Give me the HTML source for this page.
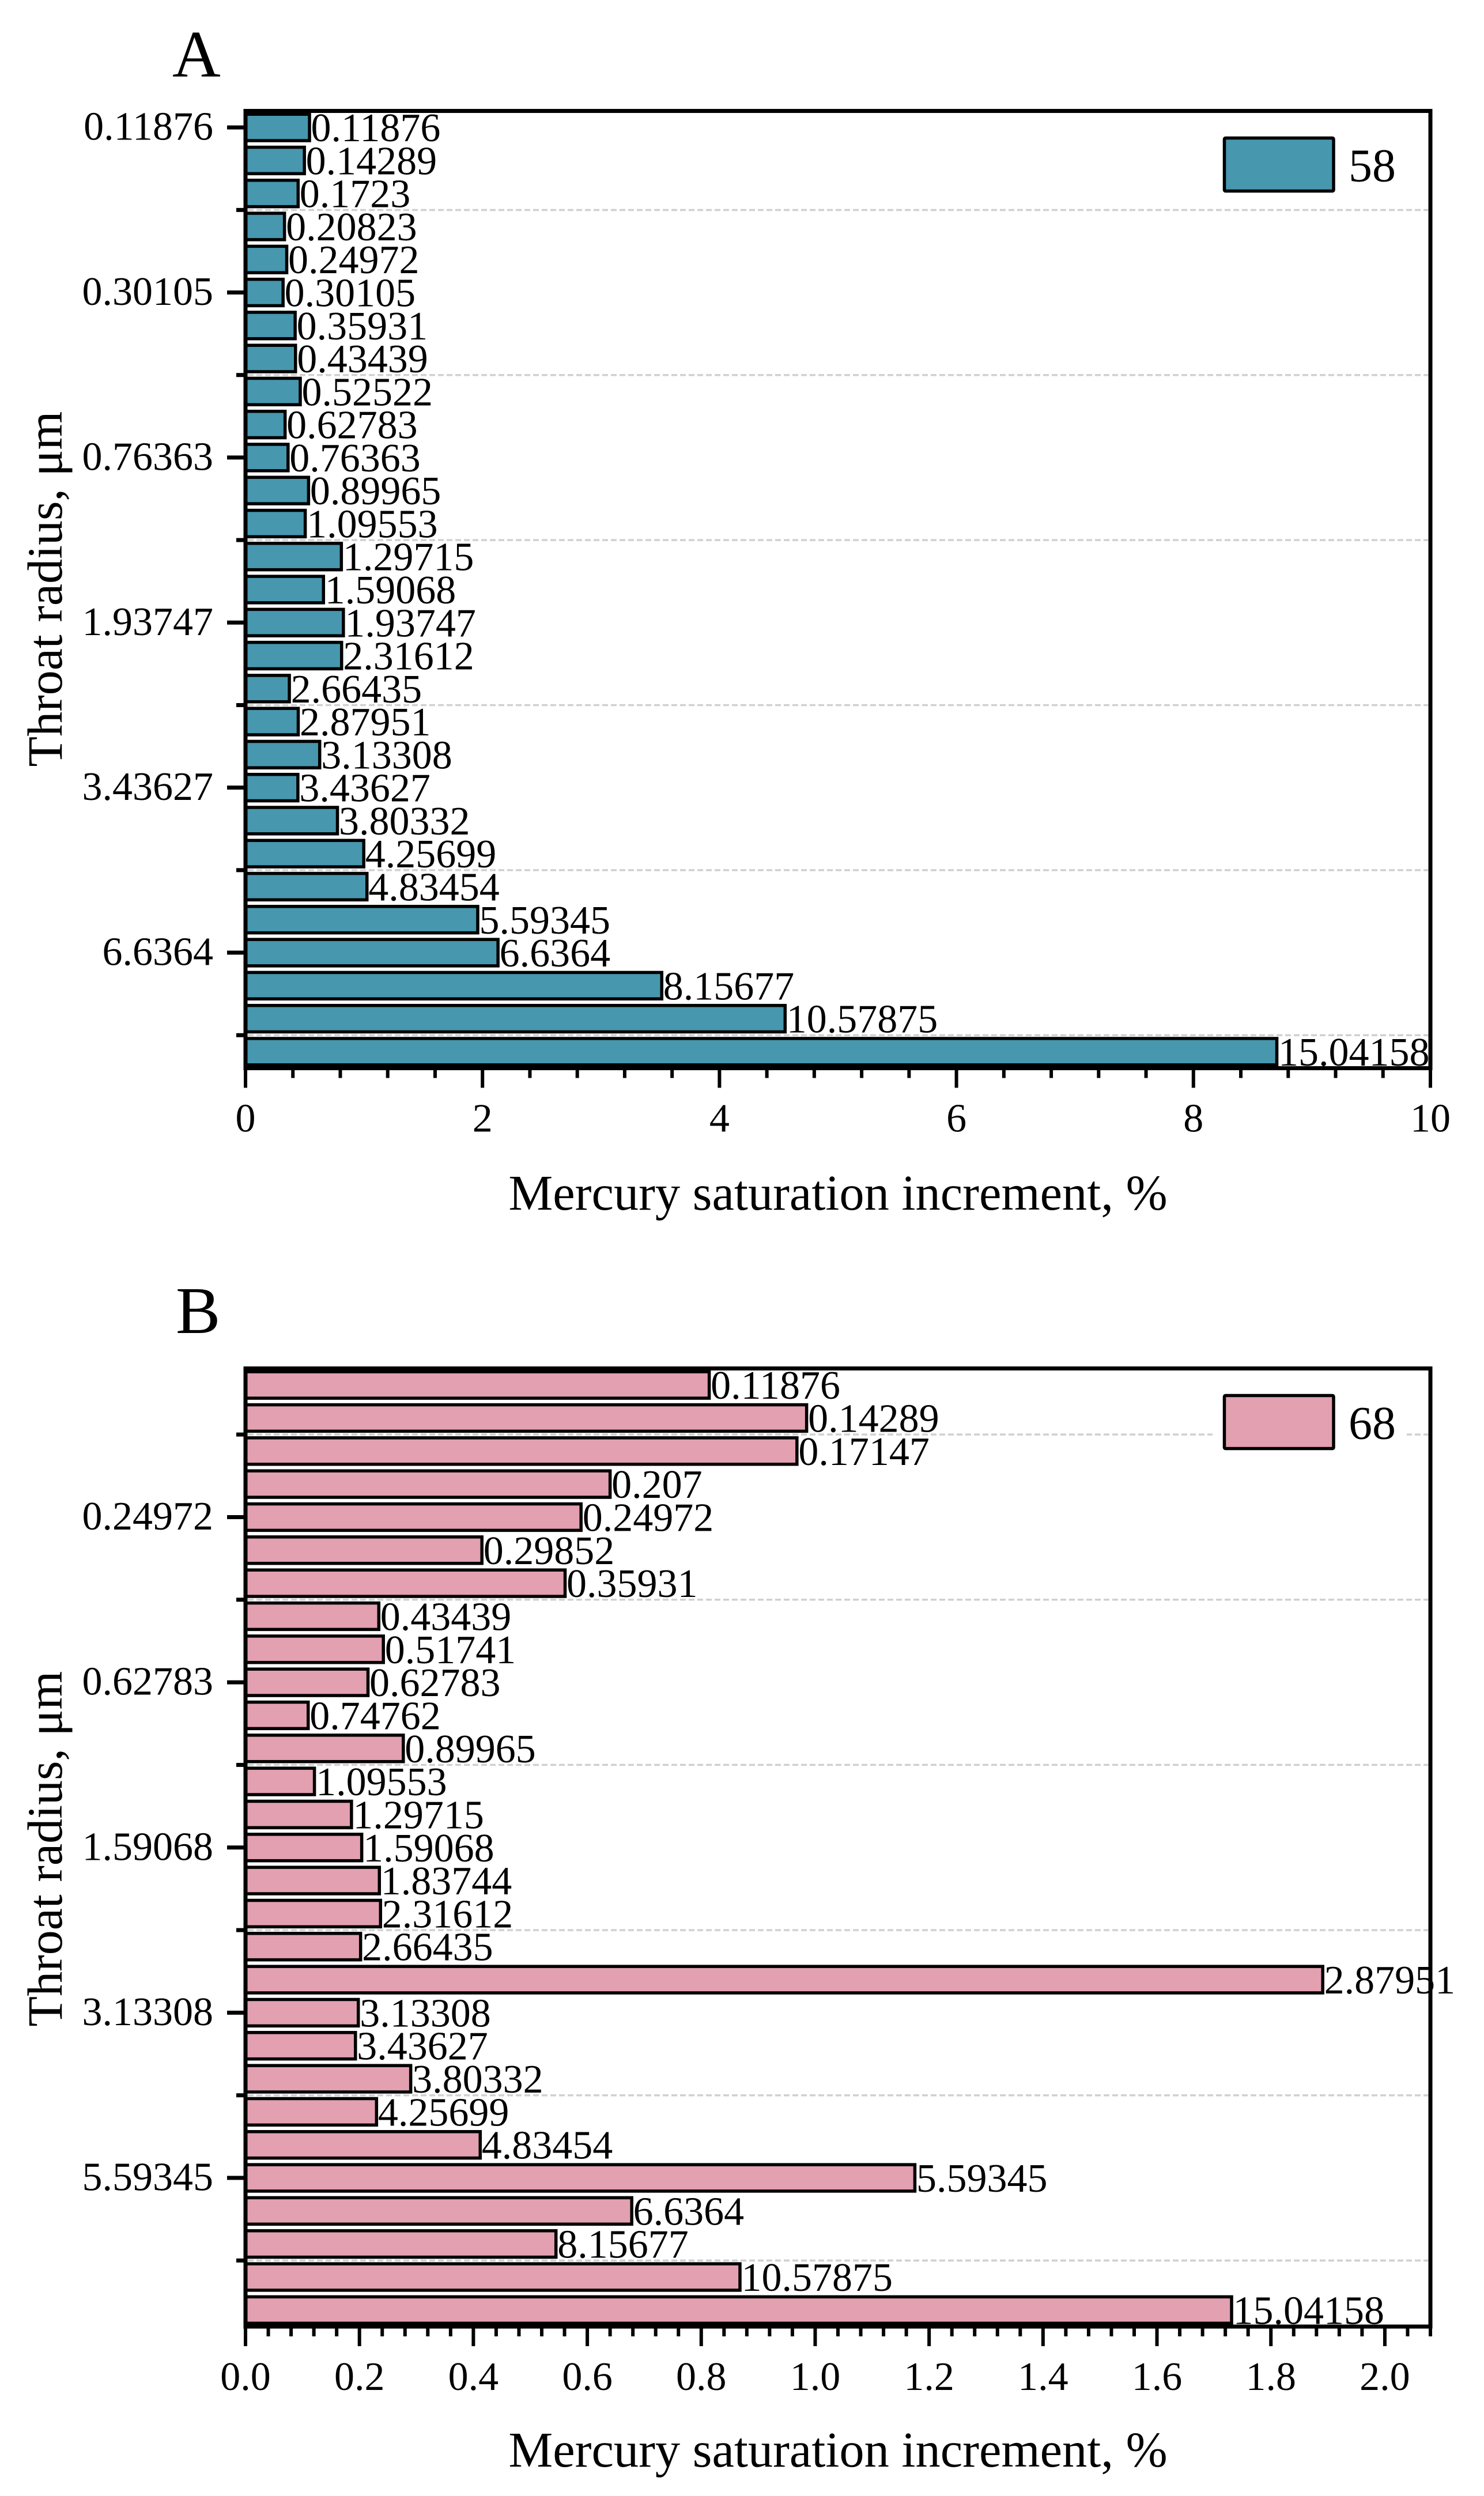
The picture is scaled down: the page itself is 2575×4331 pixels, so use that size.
<!DOCTYPE html>
<html lang="en">
<head>
<meta charset="utf-8">
<title>Mercury saturation increment by throat radius</title>
<style>
html,body{margin:0;padding:0;background:#fff;}
svg{display:block;}
text{font-family:"Liberation Serif",serif;fill:#000;}
</style>
</head>
<body>
<svg id="figure" xmlns="http://www.w3.org/2000/svg" width="2575" height="4331" viewBox="0 0 2575 4331">
  <rect x="0" y="0" width="2575" height="4331" fill="#ffffff"/>
  <text x="299" y="133" font-size="116">A</text>
  <text x="305" y="2313" font-size="116">B</text>
  <g id="panel-a"></g>
  <g id="panel-b"></g>
  <text x="1454" y="2099" font-size="86.5" text-anchor="middle">Mercury saturation increment, %</text>
  <text x="1454" y="4280" font-size="86.5" text-anchor="middle">Mercury saturation increment, %</text>
  <text transform="translate(107 1022) rotate(-90)" font-size="86" text-anchor="middle">Throat radius, μm</text>
  <text transform="translate(107 3208) rotate(-90)" font-size="86" text-anchor="middle">Throat radius, μm</text>
</svg>
<script>
const categoriesA = ["0.11876","0.14289","0.1723","0.20823","0.24972","0.30105","0.35931","0.43439","0.52522","0.62783","0.76363","0.89965","1.09553","1.29715","1.59068","1.93747","2.31612","2.66435","2.87951","3.13308","3.43627","3.80332","4.25699","4.83454","5.59345","6.6364","8.15677","10.57875","15.04158"];
const valuesA = [0.54,0.497,0.444,0.329,0.348,0.317,0.419,0.422,0.462,0.334,0.359,0.532,0.504,0.809,0.658,0.826,0.811,0.37,0.445,0.626,0.442,0.776,0.998,1.025,1.96,2.131,3.513,4.554,8.704];
const xTickLabelsA = ["0","2","4","6","8","10"];
const xTickValuesA = [0,2,4,6,8,10];
const xMinorValuesA = [0.4,0.8,1.2,1.6,2.4,2.8,3.2,3.6,4.4,4.8,5.2,5.6,6.4,6.8,7.2,7.6,8.4,8.8,9.2,9.6];
const xDomainA = [0,10];
const legendLabelA = "58";

const categoriesB = ["0.11876","0.14289","0.17147","0.207","0.24972","0.29852","0.35931","0.43439","0.51741","0.62783","0.74762","0.89965","1.09553","1.29715","1.59068","1.83744","2.31612","2.66435","2.87951","3.13308","3.43627","3.80332","4.25699","4.83454","5.59345","6.6364","8.15677","10.57875","15.04158"];
const valuesB = [0.814,0.985,0.968,0.64,0.589,0.415,0.561,0.234,0.242,0.215,0.11,0.277,0.121,0.186,0.204,0.235,0.237,0.202,1.891,0.198,0.193,0.29,0.23,0.412,1.175,0.678,0.545,0.868,1.731];
const xTickLabelsB = ["0.0","0.2","0.4","0.6","0.8","1.0","1.2","1.4","1.6","1.8","2.0"];
const xTickValuesB = [0,0.2,0.4,0.6,0.8,1.0,1.2,1.4,1.6,1.8,2.0];
const xMinorValuesB = [0.04,0.08,0.12,0.16,0.24,0.28,0.32,0.36,0.44,0.48,0.52,0.56,0.64,0.68,0.72,0.76,0.84,0.88,0.92,0.96,1.04,1.08,1.12,1.16,1.24,1.28,1.32,1.36,1.44,1.48,1.52,1.56,1.64,1.68,1.72,1.76,1.84,1.88,1.92,1.96,2.04,2.08];
const xDomainB = [0,2.08];
const legendLabelB = "68";

const NS = "http://www.w3.org/2000/svg";
function make(tag, attrs, parent){
  const node = document.createElementNS(NS, tag);
  for (const k in attrs) node.setAttribute(k, attrs[k]);
  parent.appendChild(node);
  return node;
}

function drawPanel(cfg){
  const root = document.getElementById(cfg.id);
  const L = 426, R = 2482, T = cfg.top, B = cfg.bottom;
  const band = (B - T) / cfg.categories.length;
  const xScale = v => L + (v - cfg.domain[0]) / (cfg.domain[1] - cfg.domain[0]) * (R - L);
  const yScale = i => T + (i + 0.5) * band;
  const barH = band * 0.8;
  let el;

  // y tick positions: major every 5 categories, minor halfway between (gridlines sit on minors)
  const majorIdx = [], minorIdx = [];
  for (let i = cfg.majorStart; i < cfg.categories.length; i += 5) majorIdx.push(i);
  for (let i = cfg.majorStart - 2.5; i < cfg.categories.length - 0.5; i += 5) if (i > -0.5) minorIdx.push(i);

  minorIdx.forEach(i => {
    el = make("line", {x1:L+4, x2:R-4, y1:yScale(i), y2:yScale(i), stroke:"#d0d0d0", "stroke-width":3.5, "stroke-dasharray":"10 5"}, root);
    
    
  });

  cfg.values.forEach((v, i) => {
    el = make("rect", {x:L, y:yScale(i)-barH/2, width:xScale(v)-L, height:barH, fill:cfg.color, stroke:"#000", "stroke-width":5.5}, root);
    
    
  });

  cfg.values.forEach((v, i) => {
    el = make("text", {x:xScale(v)+2.5, y:yScale(i)+24, "font-size":70}, root);
    el.textContent = cfg.categories[i];
    
    
  });

  // legend
  el = make("rect", {x:2104, y:T+26, width:337, height:135, fill:"#fff"}, root);
  
  
  el = make("rect", {x:2124.5, y:T+47, width:189.5, height:92, rx:2, fill:cfg.color, stroke:"#000", "stroke-width":5.5}, root);
  
  
  el = make("text", {x:2340, y:T+122, "font-size":82}, root);
  el.textContent = cfg.legend;
  
  

  // frame
  el = make("rect", {x:L, y:T, width:R-L, height:B-T, fill:"none", stroke:"#000", "stroke-width":7}, root);
  
  

  // y ticks
  majorIdx.forEach(i => {
    el = make("line", {x1:394, x2:L, y1:yScale(i), y2:yScale(i), stroke:"#000", "stroke-width":7}, root);
    
    
    el = make("text", {x:370, y:yScale(i)+21.5, "font-size":70, "text-anchor":"end"}, root);
    el.textContent = cfg.categories[i];
    
    
  });
  minorIdx.forEach(i => {
    el = make("line", {x1:410, x2:L, y1:yScale(i), y2:yScale(i), stroke:"#000", "stroke-width":7}, root);
    
    
  });

  // x ticks
  cfg.xMinor.forEach(v => {
    el = make("line", {x1:xScale(v), x2:xScale(v), y1:B, y2:B+17, stroke:"#000", "stroke-width":6}, root);
    
    
  });
  cfg.xTicks.forEach((v, i) => {
    el = make("line", {x1:xScale(v), x2:xScale(v), y1:B, y2:B+34, stroke:"#000", "stroke-width":6}, root);
    
    
    el = make("text", {x:xScale(v), y:B+110, "font-size":70, "text-anchor":"middle"}, root);
    el.textContent = cfg.xLabels[i];
    
    
  });
}

drawPanel({id:"panel-a", top:192.5, bottom:1853.5, categories:categoriesA, values:valuesA, domain:xDomainA, xTicks:xTickValuesA, xLabels:xTickLabelsA, xMinor:xMinorValuesA, majorStart:0, color:"#4797AE", legend:legendLabelA});
drawPanel({id:"panel-b", top:2374.5, bottom:4037, categories:categoriesB, values:valuesB, domain:xDomainB, xTicks:xTickValuesB, xLabels:xTickLabelsB, xMinor:xMinorValuesB, majorStart:4, color:"#E2A0B1", legend:legendLabelB});
</script>
</body>
</html>
